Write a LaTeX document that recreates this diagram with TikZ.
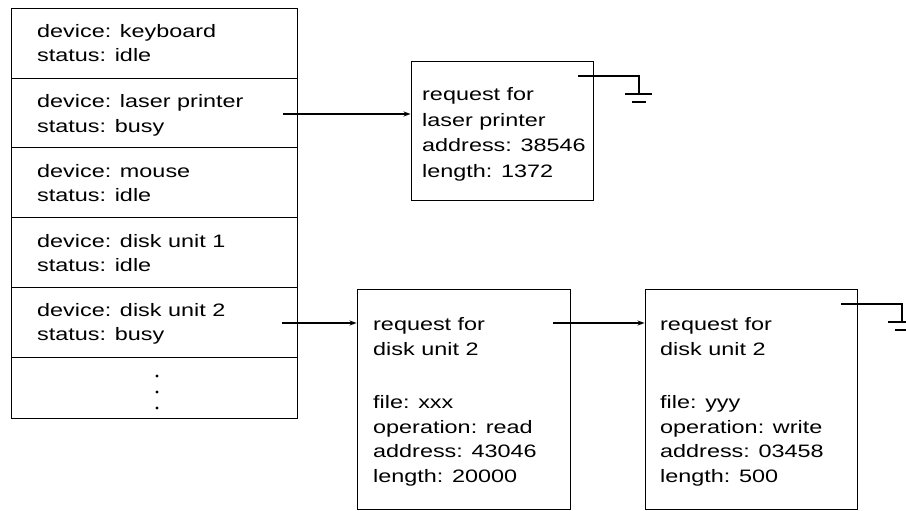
\documentclass[tikz,border=0pt]{standalone}
\usepackage{fontspec}
\setmainfont[FakeStretch=1.3]{Liberation Sans}
\usetikzlibrary{arrows.meta,fit}
\begin{document}
\begin{tikzpicture}[x=1pt,y=-1pt,
  rowbox/.style={draw,line width=0.9pt,anchor=north west,inner sep=0pt,minimum width=286pt},
  reqbox/.style={draw,line width=0.9pt,inner sep=0pt},
  lbl/.style={anchor=base west,inner sep=0pt,font=\fontsize{18}{22}\selectfont},
  arr/.style={line width=1.3pt,-{Stealth[length=7pt,width=5pt]}},
  gnd/.style={line width=1.3pt},
  gbar/.style={line width=2.4pt}]
\useasboundingbox (0,0) rectangle (906,511);
% table rows
\node[rowbox,minimum height=70pt] (r1) at (11,8) {};
\node[rowbox,minimum height=69pt] (r2) at (11,78) {};
\node[rowbox,minimum height=70pt] (r3) at (11,147) {};
\node[rowbox,minimum height=70pt] (r4) at (11,217) {};
\node[rowbox,minimum height=70pt] (r5) at (11,287) {};
\node[rowbox,minimum height=61pt] (r6) at (11,357) {};
\node[lbl] (t1a) at (37,38) {device: keyboard};
\node[lbl] (t1b) at (37,62) {status: idle};
\node[lbl] (t2a) at (37,108) {device: laser printer};
\node[lbl] (t2b) at (37,132) {status: busy};
\node[lbl] (t3a) at (37,177) {device: mouse};
\node[lbl] (t3b) at (37,201) {status: idle};
\node[lbl] (t4a) at (37,247) {device: disk unit 1};
\node[lbl] (t4b) at (37,271) {status: idle};
\node[lbl] (t5a) at (37,316) {device: disk unit 2};
\node[lbl] (t5b) at (37,340) {status: busy};
\fill (157,376) circle (1.6pt) (157,392) circle (1.6pt) (157,408) circle (1.6pt);
% request boxes
\node[reqbox,fit={(411,61) (593,200)}] (b1) {};
\node[reqbox,fit={(357,289) (570,509)}] (b2) {};
\node[reqbox,fit={(645,289) (857,509)}] (b3) {};
% box 1 text
\node[lbl] (b1a) at (422,100) {request for};
\node[lbl] (b1b) at (422,126) {laser printer};
\node[lbl] (b1c) at (422,151) {address: 38546};
\node[lbl] (b1d) at (422,177) {length: 1372};
% box 2 text
\node[lbl] (b2a) at (373,330) {request for};
\node[lbl] (b2b) at (373,355) {disk unit 2};
\node[lbl] (b2c) at (373,408) {file: xxx};
\node[lbl] (b2d) at (373,433) {operation: read};
\node[lbl] (b2e) at (373,457) {address: 43046};
\node[lbl] (b2f) at (373,482) {length: 20000};
% box 3 text
\node[lbl] (b3a) at (660,330) {request for};
\node[lbl] (b3b) at (660,355) {disk unit 2};
\node[lbl] (b3c) at (660,408) {file: yyy};
\node[lbl] (b3d) at (660,433) {operation: write};
\node[lbl] (b3e) at (660,457) {address: 03458};
\node[lbl] (b3f) at (660,482) {length: 500};
% arrows
\coordinate (p2) at (283,114);
\coordinate (p5) at (282,323);
\coordinate (q2) at (553,323);
\draw[arr] (p2) -- (p2 -| b1.west);
\draw[arr] (p5) -- (p5 -| b2.west);
\draw[arr] (q2) -- (q2 -| b3.west);
% ground 1
\coordinate (g1s) at (578,76);
\coordinate (g1) at (639,94);
\draw[gnd] (g1s) -| (g1);
\draw[gbar] ([xshift=-14pt]g1) -- ([xshift=13pt]g1);
\draw[gbar] ([xshift=-7pt,yshift=-8pt]g1) -- ([xshift=7pt,yshift=-8pt]g1);
% ground 2
\coordinate (g2s) at (841,304);
\coordinate (g2) at (902,322);
\draw[gnd] (g2s) -| (g2);
\draw[gbar] ([xshift=-14pt]g2) -- ([xshift=14pt]g2);
\draw[gbar] ([xshift=-7pt,yshift=-8pt]g2) -- ([xshift=7pt,yshift=-8pt]g2);
\end{tikzpicture}
\end{document}
